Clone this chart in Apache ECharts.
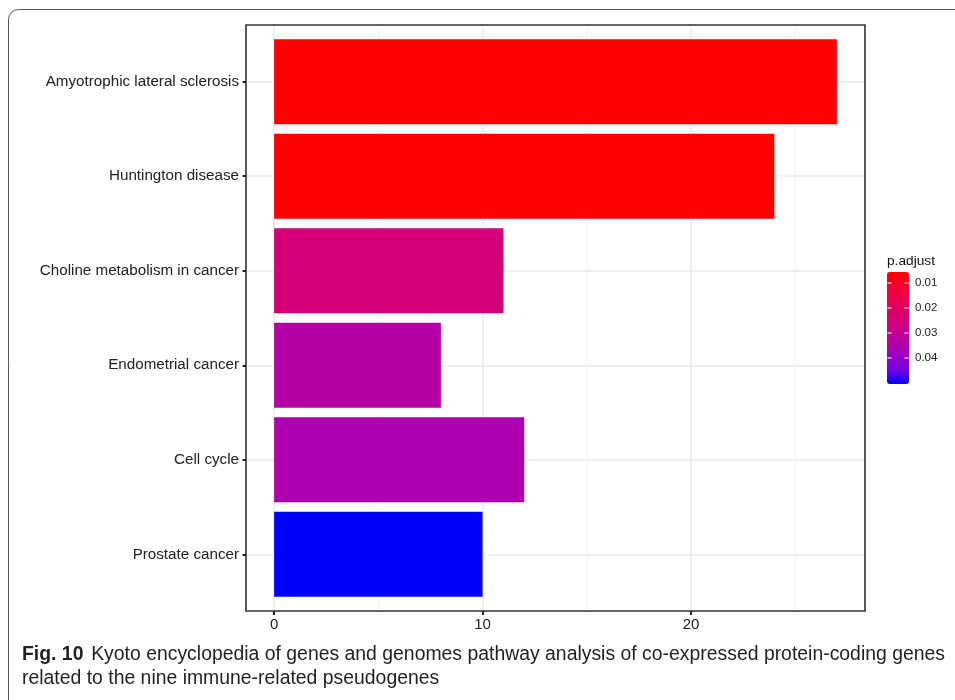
<!DOCTYPE html>
<html>
<head>
<meta charset="utf-8">
<script src="https://cdn.jsdelivr.net/npm/echarts@6/dist/echarts.min.js"></script>
<style>
  html, body { margin: 0; padding: 0; background: #fff; }
  #chart { width: 955px; height: 700px; }
</style>
</head>
<body>
<div id="chart"></div>
<script>
const categories = [
  'Amyotrophic lateral sclerosis',
  'Huntington disease',
  'Choline metabolism in cancer',
  'Endometrial cancer',
  'Cell cycle',
  'Prostate cancer'
];
const counts = [27, 24, 11, 8, 12, 10];
const pAdjust = [0.0056, 0.0058, 0.0245, 0.0335, 0.0352, 0.0504];
const xTicks = [0, 10, 20];
const xMinorTicks = [5, 15, 25];
const legendTicks = [0.01, 0.02, 0.03, 0.04];
const captionBold = 'Fig. 10';
const captionLine1 = 'Kyoto encyclopedia of genes and genomes pathway analysis of co-expressed protein-coding genes';
const captionLine2 = 'related to the nine immune-related pseudogenes';

// ggplot-like blue -> red gradient (Lab interpolation, sampled), low p first
const rampLowToHigh = ['#FF0000', '#F40031', '#E80050', '#DA006C', '#CA0089', '#B500A5', '#9A00C3', '#7300E0', '#0000FF'];

const xMin = -1.35, xMax = 28.35;
const pMin = 0.0056, pMax = 0.0504;
const axisFont = 'Liberation Sans, Arial, sans-serif';
const captionFont = 'Liberation Sans, Arial, sans-serif';
const captionSize = 20;

// the caption font in the figure is a condensed face; squeeze a regular one to the same width
const ctx = document.createElement('canvas').getContext('2d');
ctx.font = 'bold ' + captionSize + 'px ' + captionFont;
const boldW = ctx.measureText(captionBold).width;
ctx.font = captionSize + 'px ' + captionFont;
const gapW = 8;
const line1W = boldW + gapW + ctx.measureText(captionLine1).width;
const squeeze = 923 / line1W;

const chart = echarts.init(document.getElementById('chart'));

const panel = { left: 246, right: 90, top: 25, bottom: 89 };
const inset = 9.4;

chart.setOption({
  backgroundColor: '#fff',
  animation: false,
  title: {
    text: 'p.adjust',
    left: 887,
    top: 254,
    padding: 0,
    textStyle: { fontFamily: axisFont, fontSize: 13.7, fontWeight: 'normal', color: '#111' }
  },
  graphic: [
    {
      type: 'rect',
      shape: { x: 8.5, y: 9.5, width: 1000, height: 800, r: 10 },
      style: { fill: 'none', stroke: '#555', lineWidth: 1 },
      silent: true
    },
    {
      type: 'group',
      x: 22,
      y: 644,
      scaleX: squeeze,
      silent: true,
      children: [
        { type: 'text', x: 0, y: 0,
          style: { text: captionBold, font: 'bold ' + captionSize + 'px ' + captionFont, fill: '#231f20' } },
        { type: 'text', x: boldW + gapW, y: 0,
          style: { text: captionLine1, font: captionSize + 'px ' + captionFont, fill: '#231f20' } },
        { type: 'text', x: 0, y: 24,
          style: { text: captionLine2, font: captionSize + 'px ' + captionFont, fill: '#231f20' } }
      ]
    }
  ],
  grid: [
    { left: panel.left, right: panel.right, top: panel.top, bottom: panel.bottom,
      show: true, borderColor: '#333', borderWidth: 1.6, z: 5 },
    { left: panel.left, right: panel.right, top: panel.top + inset, bottom: panel.bottom + inset },
    { left: 887, top: 272, width: 22, height: 112 }
  ],
  xAxis: [
    {
      gridIndex: 0, type: 'value', min: xMin, max: xMax,
      axisLine: { show: false, onZero: false },
      splitLine: { show: false },
      axisTick: { show: true, length: 4, customValues: xTicks, lineStyle: { color: '#222', width: 2 } },
      axisLabel: { customValues: xTicks, margin: 6, fontFamily: axisFont, fontSize: 15, color: '#222' }
    },
    { gridIndex: 1, type: 'value', min: xMin, max: xMax, show: false },
    { gridIndex: 2, type: 'value', min: 0, max: 22, show: false }
  ],
  yAxis: [
    { gridIndex: 0, type: 'value', min: 0, max: 1, show: false },
    {
      gridIndex: 1, type: 'category', data: categories, inverse: true, z: 6,
      axisLine: { show: false, onZero: false },
      splitLine: { show: false },
      axisTick: { show: true, alignWithLabel: true, length: 3.5, lineStyle: { color: '#222', width: 2 } },
      axisLabel: { margin: 7, fontFamily: axisFont, fontSize: 15.2, color: '#222' }
    },
    {
      gridIndex: 2, type: 'value', min: pMin, max: pMax, inverse: true, position: 'right',
      axisLine: { show: false, onZero: false },
      splitLine: { show: false },
      axisTick: { show: false },
      axisLabel: { customValues: legendTicks, margin: 6, fontFamily: axisFont, fontSize: 11.5, color: '#222',
                   formatter: v => v.toFixed(2) }
    }
  ],
  visualMap: {
    type: 'continuous',
    seriesIndex: 2,
    dimension: 2,
    min: pMin,
    max: pMax,
    inverse: true,
    calculable: false,
    realtime: false,
    left: 887,
    top: 272,
    padding: 0,
    itemWidth: 22,
    itemHeight: 112,
    text: null,
    showLabel: false,
    inRange: { color: rampLowToHigh },
    z: 2
  },
  series: [
    {
      // vertical panel gridlines
      type: 'line', xAxisIndex: 0, yAxisIndex: 0, data: [], silent: true,
      markLine: {
        z: 1, silent: true, symbol: 'none', label: { show: false }, animation: false,
        data: xTicks.map(v => ({ xAxis: v, lineStyle: { color: '#EBEBEB', width: 1.6, type: 'solid' } }))
          .concat(xMinorTicks.map(v => ({ xAxis: v, lineStyle: { color: '#F2F2F2', width: 0.9, type: 'solid' } })))
      }
    },
    {
      // horizontal gridlines at categories
      type: 'line', xAxisIndex: 1, yAxisIndex: 1, data: [], silent: true,
      markLine: {
        z: 1, silent: true, symbol: 'none', label: { show: false }, animation: false,
        data: categories.map(c => ({ yAxis: c, lineStyle: { color: '#EBEBEB', width: 1.6, type: 'solid' } }))
      }
    },
    {
      type: 'bar', xAxisIndex: 1, yAxisIndex: 1, barWidth: '90%', z: 3,
      encode: { x: 0, y: 1 },
      data: categories.map((c, i) => [counts[i], c, pAdjust[i]])
    },
    {
      // white colourbar ticks, both edges
      type: 'scatter', xAxisIndex: 2, yAxisIndex: 2, silent: true, z: 10, zlevel: 1,
      symbol: 'rect', symbolSize: [4, 1.2],
      itemStyle: { color: '#fff', opacity: 0.9 },
      data: legendTicks.map(v => [2.5, v]).concat(legendTicks.map(v => [19.5, v]))
    }
  ]
});
</script>
</body>
</html>
